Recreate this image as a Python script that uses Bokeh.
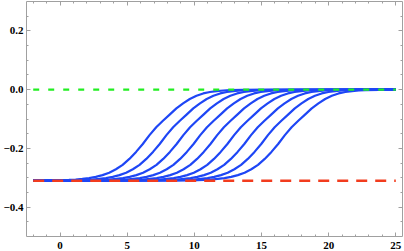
from bokeh.plotting import figure
from bokeh.models import Range1d, FixedTicker, LinearAxis, CustomJSTickFormatter, ColumnDataSource
from bokeh.embed import file_html
from bokeh.resources import INLINE

# ---- data ----
x_span = [-2.0, 25.0]            # domain of all curves
low_level = -0.31                 # red dashed reference level
high_level = 0.0                  # green dashed reference level
centers = [6.66, 7.92, 9.18, 10.44, 11.70, 12.96, 14.22, 15.48, 16.74]   # x where each curve is half-way
profile_dx = [-7, -6, -5.5, -5, -4.5, -4, -3.5, -3, -2.5, -2, -1.5, -1, -0.5, 0,
              0.5, 1, 1.5, 2, 2.5, 3, 3.5, 4, 4.5, 5, 5.5, 6, 7]
profile_y = [-0.309, -0.3075, -0.306, -0.304, -0.301, -0.297, -0.291, -0.283, -0.271, -0.256,
             -0.236, -0.212, -0.185, -0.155, -0.128, -0.106, -0.085, -0.064, -0.047, -0.032,
             -0.021, -0.013, -0.008, -0.005, -0.003, -0.002, -0.001]
x_major = [0, 5, 10, 15, 20, 25]
x_minor = [v for v in range(-2, 26) if v not in x_major]
y_major = [-0.4, -0.2, 0.0, 0.2]
y_minor = [-0.45, -0.35, -0.3, -0.25, -0.15, -0.1, -0.05, 0.05, 0.1, 0.15, 0.25]
y_labels = {-0.4: "\u22120.4", -0.2: "\u22120.2", 0.0: "0.0", 0.2: "0.2"}

xs = [[x_span[0]] + [c + d for d in profile_dx] + [x_span[1]] for c in centers]
ys = [[low_level] + profile_y + [high_level] for _ in centers]

p = figure(width=404, height=251, output_backend="svg", toolbar_location=None,
           x_range=Range1d(-2.5, 25.5), y_range=Range1d(-0.5, 0.3))
p.min_border_left = 25
p.min_border_right = 2
p.min_border_top = 1
p.min_border_bottom = 15
p.outline_line_color = None
p.grid.visible = False
p.background_fill_color = "white"

xt = FixedTicker(ticks=x_major, minor_ticks=x_minor)
yt = FixedTicker(ticks=y_major, minor_ticks=y_minor)
p.xaxis.ticker = xt
p.yaxis.ticker = yt
p.yaxis.major_label_overrides = y_labels

blank = CustomJSTickFormatter(code="return ''")
p.add_layout(LinearAxis(ticker=xt, formatter=blank, major_label_standoff=0), "above")
p.add_layout(LinearAxis(ticker=yt, formatter=blank, major_label_standoff=0), "right")

for ax in p.axis:
    ax.axis_line_color = "#a0a0a0"
    ax.major_tick_line_color = "#a0a0a0"
    ax.minor_tick_line_color = "#a0a0a0"
    ax.major_tick_in = 4
    ax.major_tick_out = 0
    ax.minor_tick_in = 2
    ax.minor_tick_out = 0
    ax.major_label_text_font = "Liberation Serif"
    ax.major_label_text_font_style = "bold"
    ax.major_label_text_font_size = "11px"
    ax.major_label_text_color = "black"
p.xaxis[0].major_label_standoff = 2
p.yaxis[0].major_label_standoff = 3

src = ColumnDataSource(dict(xs=xs, ys=ys))
p.multi_line("xs", "ys", source=src, line_color="#1e46f5", line_width=2.2)
p.line(x_span, [low_level, low_level], line_color="#f23c1e", line_width=2.5, line_dash="11 8")
p.line(x_span, [high_level, high_level], line_color="#22ee22", line_width=2.2, line_dash="6 9")

open("out.html", "w").write(file_html(p, INLINE))
